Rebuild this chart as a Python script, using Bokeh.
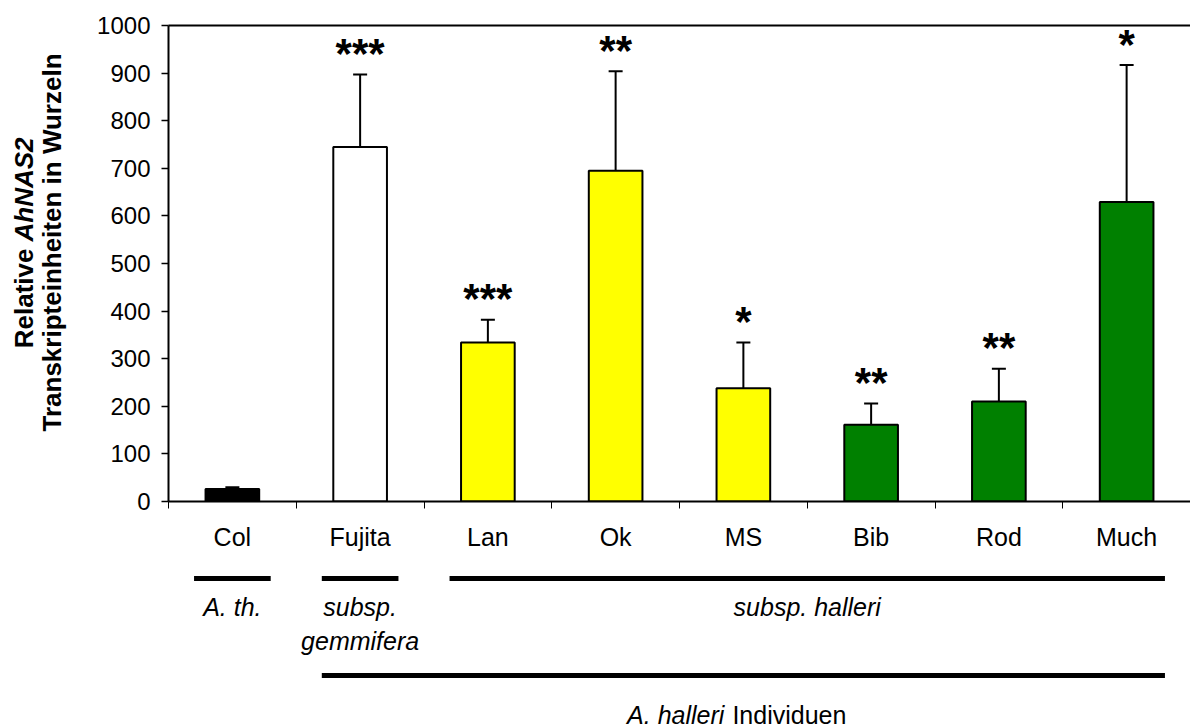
from math import pi
from bokeh.plotting import figure
from bokeh.models import (Range1d, FixedTicker, LinearAxis, Whisker,
                          TeeHead, ColumnDataSource)
from bokeh.layouts import column, row
from bokeh.embed import file_html
from bokeh.resources import INLINE
from bokeh.core.properties import value

# ---------------- data ----------------
categories = ["Col", "Fujita", "Lan", "Ok", "MS", "Bib", "Rod", "Much"]
means = [26, 745, 334, 695, 238, 161, 210, 629]
errors = [4, 152, 48, 209, 96, 45, 69, 288]
stars = ["", "***", "***", "**", "*", "**", "**", "*"]
bar_colors = ["#000000", "#FFFFFF", "#FFFF00", "#FFFF00", "#FFFF00",
              "#008000", "#008000", "#008000"]
y_ticks = [0, 100, 200, 300, 400, 500, 600, 700, 800, 900, 1000]
# group brackets below the axis: (label lines, first index, last index)
groups = [(["A. th."], 0, 0),
          (["subsp.", "gemmifera"], 1, 1),
          (["subsp. halleri"], 2, 7)]
outer_group = ("A. halleri", "Individuen", 1, 7)
title_line1 = ("Relative", "AhNAS2")
title_line2 = "Transkripteinheiten in Wurzeln"

FONT = "Liberation Sans"
TITLE_W = 90

centers = [i + 0.5 for i in range(len(categories))]
src = ColumnDataSource(dict(
    x=centers, mean=means, hi=[m + e for m, e in zip(means, errors)],
    stars=stars, color=bar_colors))

# ---------------- main plot ----------------
p = figure(width=1190 - TITLE_W, height=560,
           x_range=Range1d(0, len(categories)),
           y_range=Range1d(0, 1000), output_backend="svg",
           toolbar_location=None, min_border_left=168 - TITLE_W,
           min_border_right=0, min_border_top=25, min_border_bottom=59)
p.grid.visible = False
p.outline_line_color = None

xa = p.xaxis[0]
xa.ticker = FixedTicker(ticks=centers,
                        minor_ticks=list(range(len(categories) + 1)))
xa.major_label_overrides = {c: cat for c, cat in zip(centers, categories)}
xa.major_tick_line_color = None
xa.major_tick_out = 7
xa.major_tick_in = 0
xa.minor_tick_out = 7
xa.minor_tick_in = 0
xa.minor_tick_line_color = "black"
xa.minor_tick_line_width = 1
xa.axis_line_width = 2
xa.major_label_standoff = 14
xa.major_label_text_font = FONT
xa.major_label_text_font_size = "25px"
xa.major_label_text_color = "black"

ya = p.yaxis[0]
ya.ticker = FixedTicker(ticks=y_ticks)
ya.minor_tick_line_color = None
ya.major_tick_out = 7
ya.major_tick_in = 0
ya.major_tick_line_width = 1.5
ya.axis_line_width = 2
ya.major_label_standoff = 11
ya.major_label_text_font = FONT
ya.major_label_text_font_size = "24px"
ya.major_label_text_color = "black"

top = LinearAxis(ticker=FixedTicker(ticks=[]), axis_line_width=2,
                 major_tick_line_color=None, minor_tick_line_color=None,
                 major_label_text_font_size="0px")
p.add_layout(top, "above")

p.vbar(x="x", top="mean", width=0.42, fill_color="color",
       line_color="black", line_width=2, source=src)

p.add_layout(Whisker(base="x", lower="mean", upper="hi", source=src,
                     line_width=2, line_color="black",
                     upper_head=TeeHead(size=14, line_width=2,
                                        line_color="black"),
                     lower_head=None))

p.text(x="x", y="hi", text="stars", source=src, text_align="center",
       text_baseline="alphabetic", text_font=value(FONT),
       text_font_size="42px", text_font_style="bold", text_color="black",
       y_offset=-21)

# ---------------- y-axis title strip (left) ----------------
t = figure(width=TITLE_W, height=560, x_range=Range1d(0, TITLE_W),
           y_range=Range1d(560, 0), output_backend="svg",
           toolbar_location=None, min_border=0,
           x_axis_location=None, y_axis_location=None)
t.grid.visible = False
t.outline_line_color = None
t.text(x=[23], y=[248], text=[title_line1[0]], angle=pi / 2,
       text_align="right", text_baseline="alphabetic",
       text_font=value(FONT), text_font_size="26px",
       text_font_style="bold", text_color="black")
t.text(x=[23], y=[241], text=[title_line1[1]], angle=pi / 2,
       text_align="left", text_baseline="alphabetic",
       text_font=value(FONT), text_font_size="26px",
       text_font_style="bold italic", text_color="black")
t.text(x=[51], y=[242], text=[title_line2], angle=pi / 2,
       text_align="center", text_baseline="alphabetic",
       text_font=value(FONT), text_font_size="26px",
       text_font_style="bold", text_color="black")

# ---------------- group annotation strip (below) ----------------
ROW_LINE1, ROW_TXT1, ROW_TXT2, ROW_LINE2, ROW_TXT3 = 18, 46, 80, 115, 154
b = figure(width=1190 - TITLE_W, height=167, x_range=p.x_range,
           y_range=Range1d(167, 0), output_backend="svg",
           toolbar_location=None, min_border_left=168 - TITLE_W,
           min_border_right=0, min_border_top=0, min_border_bottom=0,
           x_axis_location=None, y_axis_location=None)
b.grid.visible = False
b.outline_line_color = None

gx0 = [g[1] + 0.2 for g in groups]
gx1 = [g[2] + 0.8 for g in groups]
b.segment(x0=gx0, x1=gx1, y0=[ROW_LINE1] * len(groups),
          y1=[ROW_LINE1] * len(groups), line_color="black", line_width=5,
          line_cap="butt")
tx, ty, tt = [], [], []
rows = [ROW_TXT1, ROW_TXT2]
for lines, a, z in groups:
    for k, s in enumerate(lines):
        tx.append((a + z + 1) / 2)
        ty.append(rows[k])
        tt.append(s)
b.text(x=tx, y=ty, text=tt, text_align="center", text_baseline="middle",
       text_font=value(FONT), text_font_size="25px",
       text_font_style="italic", text_color="black")

oa, oz = outer_group[2], outer_group[3]
b.segment(x0=[oa + 0.2], x1=[oz + 0.8], y0=[ROW_LINE2], y1=[ROW_LINE2],
          line_color="black", line_width=5, line_cap="butt")
omid = (oa + oz + 1) / 2
b.text(x=[omid], y=[ROW_TXT3], text=[outer_group[0]], text_align="right",
       text_baseline="middle", text_font=value(FONT), text_font_size="25px",
       text_font_style="italic", text_color="black", x_offset=-19)
b.text(x=[omid], y=[ROW_TXT3], text=[outer_group[1]], text_align="left",
       text_baseline="middle", text_font=value(FONT), text_font_size="25px",
       text_font_style="normal", text_color="black", x_offset=-11)

layout = row(t, column(p, b, spacing=0), spacing=0)
open("out.html", "w").write(file_html(layout, INLINE))
